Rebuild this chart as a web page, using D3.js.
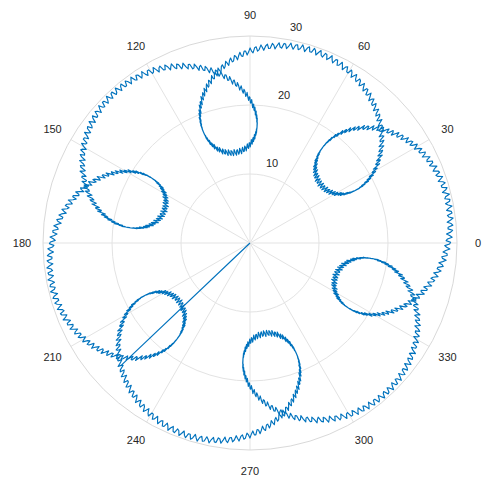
<!DOCTYPE html>
<html>
<head>
<meta charset="utf-8">
<script src="https://cdn.jsdelivr.net/npm/d3@7"></script>
<style>
  html, body { margin: 0; padding: 0; background: #ffffff; }
  svg { display: block; }
  text { font-family: "Liberation Sans", Arial, sans-serif; font-size: 11px; fill: #262626; }
</style>
</head>
<body>
<svg id="chart" width="482" height="484"></svg>
<script>
// Angular and radial ticks of the polar axes
const angleTicks = [0, 30, 60, 90, 120, 150, 180, 210, 240, 270, 300, 330];
const radialTicks = [10, 20, 30];
const radialLimit = [0, 30];

// Orbit: a point on an ellipse (semi-axes loopAxes, tilted by loopTilt) that
// turns loopHarmonic times per revolution around a circle of radius orbitRadius.
// A fast radial ripple rides on top of it.
const orbitRadius  = 21.3;
const loopAxes     = [7.9, 8.4];   // radial, tangential semi-axis
const loopTilt     = -0.5;         // rad
const loopHarmonic = 6;
const angleOffset  = 0.096;        // rad
const rippleWave   = [0.45, 560];  // amplitude, harmonic
const sampleCount  = 2000;
const startParam   = 4.09;

const samples = [];
for (let j = 0; j <= sampleCount; j++) {
  const t = startParam + (2 * Math.PI * j) / sampleCount;
  const ex = loopAxes[0] * Math.cos(loopHarmonic * t);
  const ey = loopAxes[1] * Math.sin(loopHarmonic * t);
  const wr = orbitRadius + ex * Math.cos(loopTilt) - ey * Math.sin(loopTilt);
  const wi = ex * Math.sin(loopTilt) + ey * Math.cos(loopTilt);
  const theta = t + angleOffset + Math.atan2(wi, wr);
  const rho = Math.hypot(wr, wi) + rippleWave[0] * Math.sin(rippleWave[1] * t);
  samples.push({ theta, r: rho });
}
// the series opens at the origin
samples.unshift({ theta: samples[0].theta, r: 0 });

const cx = 250, cy = 243, R = 207;

const svg = d3.select("#chart");
const g = svg.append("g").attr("transform", `translate(${cx},${cy})`);

const rScale = d3.scaleLinear().domain(radialLimit).range([0, R]);
// math angle in degrees (CCW from east) -> screen x/y
const toXY = (deg, rad) => {
  const a = deg * Math.PI / 180;
  return [rad * Math.cos(a), -rad * Math.sin(a)];
};

// Grid: spokes
g.append("g").selectAll("line").data(angleTicks).join("line")
  .attr("x1", 0).attr("y1", 0)
  .attr("x2", d => toXY(d, R)[0]).attr("y2", d => toXY(d, R)[1])
  .attr("stroke", "#e3e3e3").attr("stroke-width", 1);

// Grid: rings
g.append("g").selectAll("circle").data(radialTicks.filter(d => d < radialLimit[1])).join("circle")
  .attr("r", d => rScale(d))
  .attr("fill", "none").attr("stroke", "#e3e3e3").attr("stroke-width", 1);

// Outer boundary
g.append("circle").attr("r", R).attr("fill", "none")
  .attr("stroke", "#d9d9d9").attr("stroke-width", 1);

// Angle labels
g.append("g").selectAll("text").data(angleTicks).join("text")
  .attr("x", d => toXY(d, R + 21)[0])
  .attr("y", d => toXY(d, R + 21)[1])
  .attr("text-anchor", "middle")
  .attr("dominant-baseline", "central")
  .text(d => d);

// Radial labels along 80 degrees
g.append("g").selectAll("text").data(radialTicks).join("text")
  .attr("x", d => toXY(80, rScale(d))[0] + 4)
  .attr("y", d => toXY(80, rScale(d))[1] - 8)
  .attr("text-anchor", "start")
  .text(d => d);

// Trajectory
const line = d3.lineRadial()
  .angle(d => Math.PI / 2 - d.theta)
  .radius(d => rScale(d.r));

g.append("path")
  .datum(samples)
  .attr("d", line)
  .attr("fill", "none")
  .attr("stroke", "#0072BD")
  .attr("stroke-width", 1.15)
  .attr("stroke-linejoin", "round");
</script>
</body>
</html>
